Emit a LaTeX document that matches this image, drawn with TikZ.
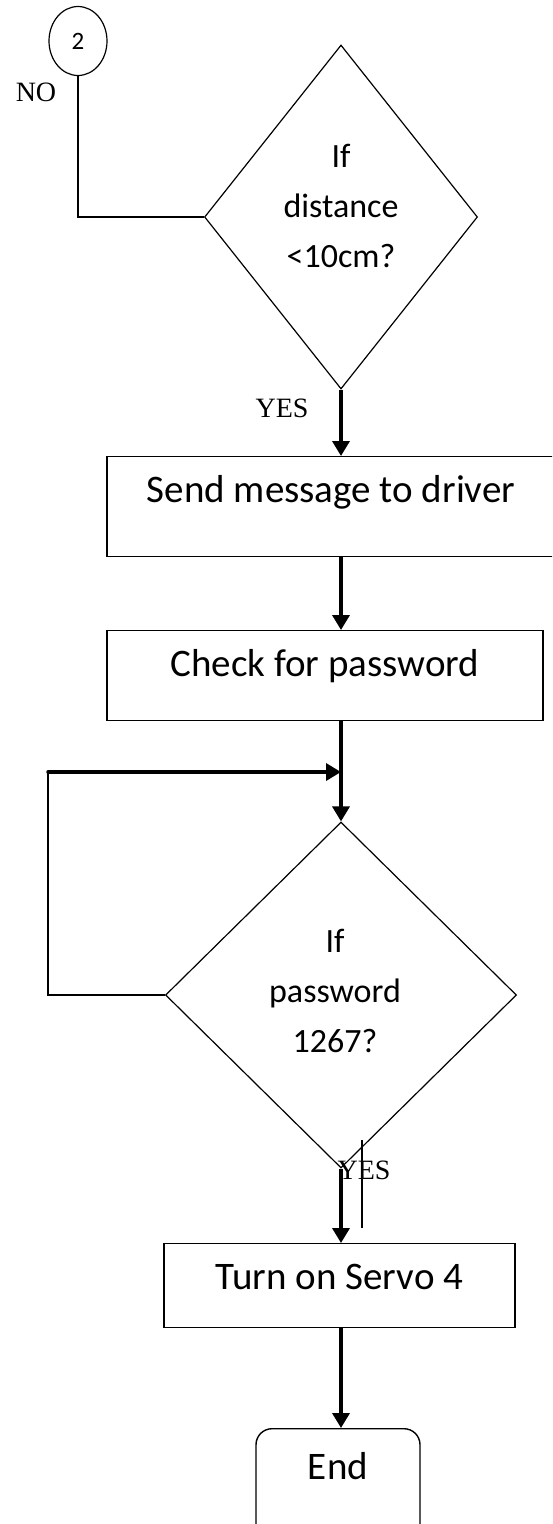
\documentclass[tikz,border=0pt]{standalone}
\usepackage{fontspec}
\setmainfont{Liberation Serif}
\newfontfamily\calfont{Carlito}
\usetikzlibrary{shapes.geometric,arrows.meta}
\begin{document}
\begin{tikzpicture}[x=1pt,y=-1pt,
  thinline/.style={line width=1.4pt},
  box/.style={draw, line width=1.4pt, rectangle, inner sep=0pt, font=\calfont\fontsize{39}{46}\selectfont, text height=46pt},
  dia/.style={draw, diamond, line width=1.2pt, inner sep=0pt},
  flow/.style={line width=3.5pt, -{Triangle[width=17pt,length=15pt]}},
  lbl/.style={font=\fontsize{28}{30}\selectfont, inner sep=0pt},
  dtext/.style={font=\calfont\fontsize{34}{50}\selectfont, align=center, inner sep=0pt}]
\useasboundingbox (0,0) rectangle (552,1524);
\clip (0,0) rectangle (552,1524);

\node[draw, ellipse, line width=1.2pt, minimum width=58pt, minimum height=69pt, inner sep=0pt, font=\calfont\fontsize{25}{25}\selectfont] (c2) at (78,41) {2};

\node[dia, minimum width=273pt, minimum height=344pt] (d1) at (341,217) {};
\node[dtext] (d1t) at (341,206) {If\\distance\\<10cm?};

\node[box, text depth=54pt, minimum width=448pt, anchor=north] (b1) at (331,456) {Send message to driver};
\node[box, text depth=44pt, minimum width=436pt, anchor=north] (b2) at (325,630) {Check for password};

\node[dia, minimum width=351pt, minimum height=346pt] (d2) at (341,995) {};
\node[dtext] (d2t) at (335,991) {If\\password\\1267?};

\node[box, text depth=38pt, minimum width=351pt, anchor=north] (b3) at (339.5,1243) {Turn on Servo 4};
\node[box, rounded corners=16pt, text height=51pt, text depth=70pt, minimum width=164pt, anchor=north] (end) at (338,1428) {End};

\node[lbl] (no) at (36,92) {NO};
\node[lbl] (yes1) at (282,408) {YES};
\node[lbl] (yes2) at (364,1170) {YES};

\coordinate (j) at (341,772);
\coordinate (lc) at (48,772);
\coordinate (s1) at (362,1140);
\coordinate (s2) at (362,1228);

\draw[thinline] (c2.south) -- (c2.south |- d1.west) -- (d1.west);
\draw[flow] (d1.south) -- (d1.south |- b1.north);
\draw[flow] (b1.south -| d1.south) -- (d1.south |- b2.north);
\draw[flow] (b2.south -| d2.north) -- (d2.north);
\draw[thinline] (d2.west) -- (d2.west -| lc) -- (lc);
\draw[flow, line cap=round] (lc) -- (j);
\draw[flow] (d2.south) -- (d2.south |- b3.north);
\draw[flow] (b3.south -| d2.south) -- (d2.south |- end.north);
\draw[thinline] (s1) -- (s2);
\end{tikzpicture}
\end{document}
